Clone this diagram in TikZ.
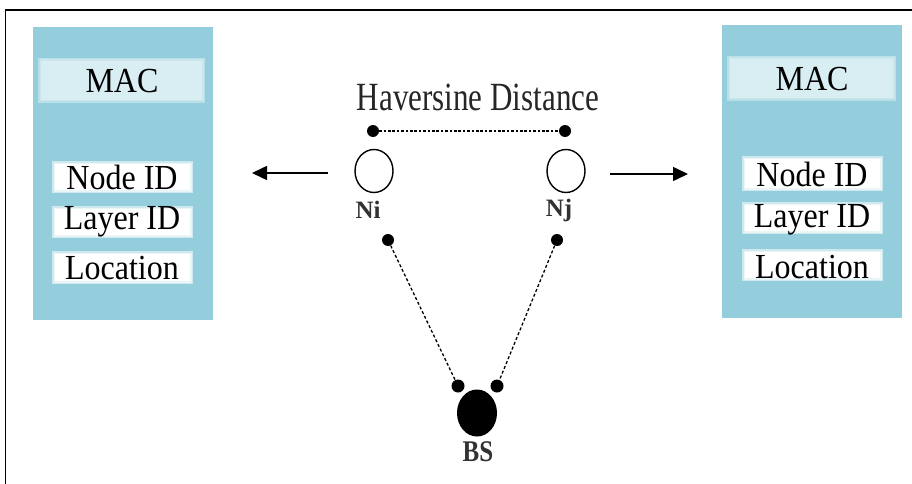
\documentclass[tikz,border=0pt]{standalone}
\usepackage{fontspec}
\setmainfont{Liberation Serif}
\usetikzlibrary{arrows.meta,shapes.geometric}
\definecolor{boxblue}{RGB}{148,205,219}
\definecolor{macband}{RGB}{216,238,243}
\definecolor{lblgray}{RGB}{50,50,50}
\tikzset{
  panel/.style={fill=boxblue, draw=none},
  fieldtext/.style={font=\fontsize{32}{32}\selectfont, inner sep=0pt},
  nodelbl/.style={font=\fontsize{25}{25}\selectfont\bfseries, text=lblgray, inner sep=0pt},
  endpt/.style={circle, fill=black, inner sep=0pt, minimum size=12pt},
  sensor/.style={ellipse, draw=black, line width=1.4pt, fill=white, minimum width=38pt, minimum height=43pt, inner sep=0pt},
  station/.style={ellipse, fill=black, minimum width=40pt, minimum height=47pt, inner sep=0pt},
  link/.style={line width=1.3pt, dash pattern=on 3pt off 2.2pt},
  flow/.style={line width=1.6pt, -{Triangle[length=15pt,width=14pt]}}
}
\newcommand{\softfield}[5]{% x1 y1 x2 y2 fillcolor
  \fill[#5!55!boxblue] (#1-3,#2-3) rectangle (#3+3,#4+3);
  \fill[#5!80!boxblue] (#1-1.5,#2-1.5) rectangle (#3+1.5,#4+1.5);
  \fill[#5] (#1,#2) rectangle (#3,#4);
}
\begin{document}
\begin{tikzpicture}[x=1pt,y=-1pt]
\useasboundingbox (0,0) rectangle (912,484);
\clip (0,0) rectangle (912,484);
% frame
\draw[line width=1.6pt] (5.5,10) rectangle (930,500);
% left panel
\fill[panel] (33,27) rectangle (213,320);
\softfield{41}{61}{202}{100}{macband}
\softfield{55}{164}{190}{190}{white}
\softfield{55}{209}{190}{235}{white}
\softfield{55}{254}{190}{281}{white}
\node[fieldtext] (macL) at (122,81) {\scalebox{1}[1.1]{MAC}};
\node[fieldtext] (nidL) at (122,177) {\scalebox{1}[1.1]{Node ID}};
\node[fieldtext] (lidL) at (122,222) {\scalebox{1}[1.1]{Layer ID}};
\node[fieldtext] (locL) at (122,268) {\scalebox{1}[1.1]{Location}};
% right panel
\fill[panel] (722,25) rectangle (902,318);
\softfield{730}{59}{893}{98}{macband}
\softfield{745}{159}{880}{188}{white}
\softfield{745}{205}{880}{231}{white}
\softfield{745}{252}{880}{278}{white}
\node[fieldtext] (macR) at (812,79) {\scalebox{1}[1.1]{MAC}};
\node[fieldtext] (nidR) at (812,174) {\scalebox{1}[1.1]{Node ID}};
\node[fieldtext] (lidR) at (812,220) {\scalebox{1}[1.1]{Layer ID}};
\node[fieldtext] (locR) at (812,267) {\scalebox{1}[1.1]{Location}};
% title
\node[fieldtext, text=black!85] (hav) at (478,97) {\scalebox{0.97}[1.25]{Haversine Distance}};
% distance endpoints
\node[endpt] (hd1) at (373,131) {};
\node[endpt] (hd2) at (565,131) {};
\draw[link, line width=1.2pt, dash pattern=on 2.6pt off 1.8pt] (hd1) -- (hd2);
% sensor nodes
\node[sensor] (ni) at (374,171) {};
\node[sensor] (nj) at (566,171) {};
\node[nodelbl] (niL) at (368,210) {Ni};
\node[nodelbl] (njL) at (559,210) {Nj};
% links to BS
\node[endpt] (a1) at (388,240) {};
\node[endpt] (a2) at (557,240) {};
\node[endpt, minimum size=13pt] (b1) at (458,386) {};
\node[endpt, minimum size=13pt] (b2) at (497,386) {};
\draw[link] (a1) -- (b1);
\draw[link] (a2) -- (b2);
\node[station] (bs) at (477,413) {};
\node[nodelbl] (bsL) at (478,452) {\scalebox{1}[1.2]{BS}};
% arrows
\coordinate (la1) at (328,173);
\coordinate (la2) at (252,173);
\coordinate (ra1) at (610,174);
\coordinate (ra2) at (688,174);
\draw[flow] (la1) -- (la2);
\draw[flow] (ra1) -- (ra2);
\end{tikzpicture}
\end{document}
